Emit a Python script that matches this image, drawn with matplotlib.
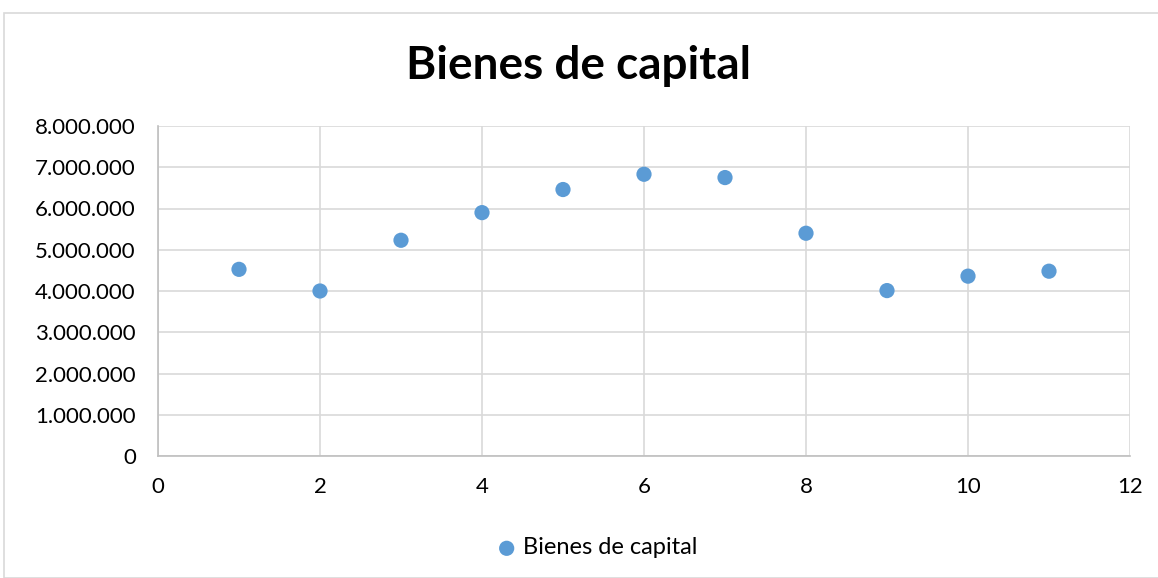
import matplotlib
matplotlib.use("Agg")
import matplotlib.pyplot as plt
from matplotlib.ticker import FuncFormatter, MultipleLocator
from matplotlib.patches import Rectangle

x_vals = [1, 2, 3, 4, 5, 6, 7, 8, 9, 10, 11]
y_vals = [4525000, 4000000, 5230000, 5900000, 6460000, 6830000, 6750000,
          5400000, 4010000, 4360000, 4480000]
series_name = "Bienes de capital"
title = "Bienes de capital"

plt.rcParams['font.family'] = ['Lato', 'DejaVu Sans']

fig = plt.figure(figsize=(11.58, 5.78), dpi=100)
fig.patches.append(Rectangle((4/1158, 0), 1.0, 1 - 13/578, transform=fig.transFigure,
                             fill=False, edgecolor='#D9D9D9', linewidth=1.2))
ax = fig.add_axes([158/1158, 1 - 456/578, (1130 - 158)/1158, (456 - 126)/578])

ax.scatter(x_vals, y_vals, s=120, color='#5B9BD5', zorder=3, label=series_name,
           edgecolors='none')

ax.set_xlim(0, 12)
ax.set_ylim(0, 8000000)
ax.xaxis.set_major_locator(MultipleLocator(2))
ax.yaxis.set_major_locator(MultipleLocator(1000000))
ax.yaxis.set_major_formatter(FuncFormatter(lambda v, p: f"{int(v):,}".replace(",", ".")))

ax.grid(True, color='#D9D9D9', linewidth=1.2, zorder=0)
ax.set_axisbelow(True)
for s in ['top', 'right']:
    ax.spines[s].set_visible(False)
for s in ['left', 'bottom']:
    ax.spines[s].set_color('#BFBFBF')
    ax.spines[s].set_linewidth(1.2)
ax.tick_params(length=0, labelsize=16, colors='#000000')
ax.tick_params(axis='y', pad=16)
ax.tick_params(axis='x', pad=15)

fig.text(0.5, 1 - 66/578, title, ha='center', va='center', fontsize=33, fontweight='bold')

leg = ax.legend(loc='center', bbox_to_anchor=((598 - 158)/972, (456 - 548)/(456 - 126)),
                frameon=False, fontsize=17, handlelength=0.7, handletextpad=0.35,
                markerscale=1.0)

fig.savefig("out.png", dpi=100)
